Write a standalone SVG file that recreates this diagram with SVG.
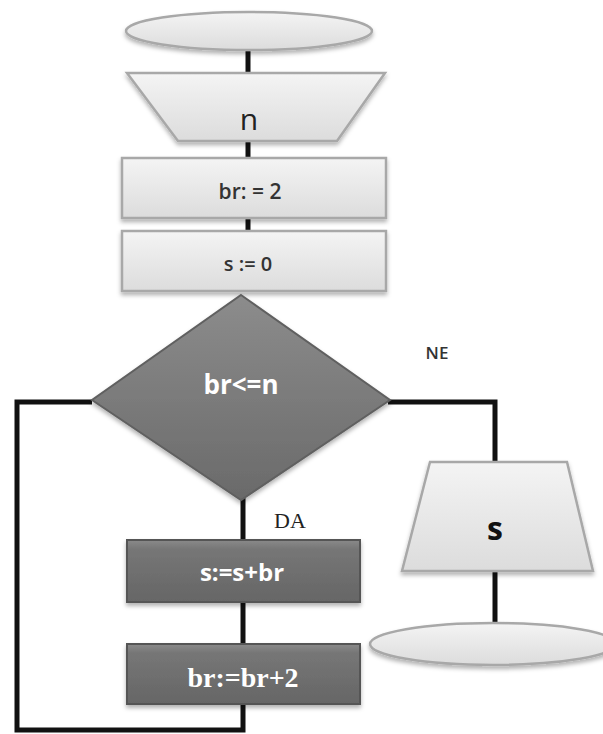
<svg xmlns="http://www.w3.org/2000/svg" width="603" height="734" viewBox="0 0 603 734">
<defs>
<linearGradient id="light" x1="0" y1="0" x2="0" y2="1">
<stop offset="0" stop-color="#f4f4f4"/><stop offset="1" stop-color="#dcdcdc"/>
</linearGradient>
<linearGradient id="dark" x1="0" y1="0" x2="0" y2="1">
<stop offset="0" stop-color="#8a8a8a"/><stop offset="0.15" stop-color="#767676"/><stop offset="1" stop-color="#666"/>
</linearGradient>
<linearGradient id="dia" x1="0" y1="0" x2="0" y2="1">
<stop offset="0" stop-color="#8c8c8c"/><stop offset="1" stop-color="#6a6a6a"/>
</linearGradient>
<filter id="sh" x="-10%" y="-10%" width="130%" height="140%">
<feDropShadow dx="0" dy="3" stdDeviation="2" flood-color="#000" flood-opacity="0.3"/>
</filter>
</defs>
<style>
.lt{fill:url(#light);stroke:#a8a8a8;stroke-width:2.5;filter:url(#sh)}
.dk{fill:url(#dark);stroke:#555;stroke-width:2;filter:url(#sh)}
.ln{fill:none;stroke:#111;stroke-width:5}
.sans{font-family:"Open Sans","Liberation Sans",sans-serif;text-anchor:middle}
.serif{font-family:"Liberation Serif","DejaVu Serif",serif;text-anchor:middle}
</style>
<g id="connectors">
<line class="ln" x1="248" y1="48" x2="248" y2="74"/>
<line class="ln" x1="248" y1="140" x2="248" y2="160"/>
<line class="ln" x1="248" y1="218" x2="248" y2="233"/>
<polyline class="ln" points="92,402 17,402 17,730 243,730 243,703"/>
<line class="ln" x1="243" y1="498" x2="243" y2="542"/>
<line class="ln" x1="243" y1="602" x2="243" y2="645"/>
<polyline class="ln" points="388,402 495,402 495,464"/>
<line class="ln" x1="495" y1="570" x2="495" y2="627"/>
</g>
<g id="start">
<ellipse class="lt" cx="249" cy="31" rx="123" ry="19"/>
</g>
<g id="input-n">
<polygon class="lt" points="127,73 385,73 337,141 178,141"/>
<text class="sans" x="249" y="130" font-size="30" fill="#222">n</text>
</g>
<g id="br-init">
<rect class="lt" x="122" y="158" width="264" height="60"/>
<text class="sans" x="250" y="199" font-size="21" font-weight="600" fill="#333">br: = 2</text>
</g>
<g id="s-init">
<rect class="lt" x="122" y="231" width="264" height="60"/>
<text class="sans" x="248" y="271" font-size="20" font-weight="600" fill="#333">s := 0</text>
</g>
<g id="decision">
<polygon points="241,295 390,400 241,500 92,400" fill="url(#dia)" stroke="#606060" stroke-width="2" filter="url(#sh)"/>
<text class="sans" x="241" y="394" font-size="26" font-weight="bold" fill="#fff">br&lt;=n</text>
</g>
<text class="sans" x="437" y="359" font-size="17" font-weight="600" fill="#333">NE</text>
<text class="serif" x="290" y="528" font-size="22" fill="#222">DA</text>
<g id="sum">
<rect class="dk" x="127" y="540" width="233" height="62"/>
<text class="sans" x="242" y="581" font-size="24" font-weight="bold" fill="#fff">s:=s+br</text>
</g>
<g id="inc">
<rect class="dk" x="127" y="644" width="233" height="60"/>
<text class="serif" x="243" y="687" font-size="28" font-weight="bold" fill="#fff">br:=br+2</text>
</g>
<g id="output-s">
<polygon class="lt" points="430,462 567,462 593,571 402,571"/>
<text class="sans" x="495" y="540" font-size="32" font-weight="bold" fill="#111">s</text>
</g>
<g id="end">
<ellipse class="lt" cx="493" cy="644" rx="123" ry="21"/>
</g>
</svg>
